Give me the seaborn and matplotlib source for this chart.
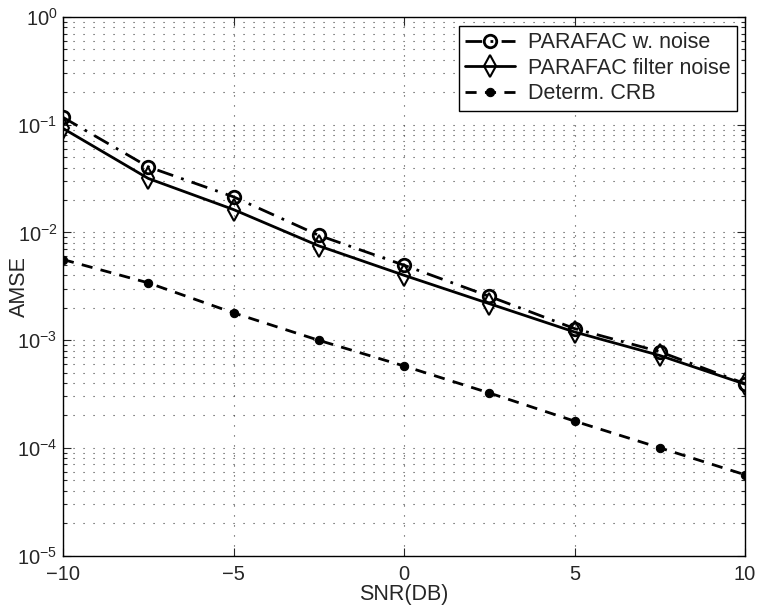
import numpy as np
import pandas as pd
import matplotlib
matplotlib.use("Agg")
import matplotlib.pyplot as plt
import seaborn as sns
from matplotlib.ticker import LogLocator, FixedLocator

snr_db = [-10, -7.5, -5, -2.5, 0, 2.5, 5, 7.5, 10]
parafac_w_noise = [0.117, 0.0406, 0.0214, 0.0094, 0.00496, 0.00255, 0.00128, 0.00078, 0.000394]
parafac_filter_noise = [0.0924, 0.0317, 0.0163, 0.0075, 0.0040, 0.00218, 0.00119, 0.00072, 0.00039]
determ_crb = [0.0056, 0.0034, 0.00179, 0.000996, 0.000575, 0.000323, 0.000177, 0.0001, 0.0000562]
labels = ["PARAFAC w. noise", "PARAFAC filter noise", "Determ. CRB"]
x_ticks = [-10, -5, 0, 5, 10]

sns.set_style("ticks")
plt.rcParams["font.family"] = ["Liberation Sans", "DejaVu Sans"]
plt.rcParams["mathtext.fontset"] = "custom"
plt.rcParams["mathtext.rm"] = "Liberation Sans"
plt.rcParams["mathtext.it"] = "Liberation Sans:italic"

fig = plt.figure(figsize=(7.57, 6.06), dpi=100)
ax = fig.add_axes([63/757, 1 - 555.5/606, (745-63)/757, (555.5-17)/606])

fs = 15.5
tfs = 14.5
sns.lineplot(x=snr_db, y=parafac_w_noise, ax=ax, color="k", lw=2,
             linestyle=(0, (6, 3, 1, 3)), marker="o", markersize=9,
             markerfacecolor="none", markeredgecolor="k", markeredgewidth=2,
             label=labels[0])
sns.lineplot(x=snr_db, y=parafac_filter_noise, ax=ax, color="k", lw=2,
             linestyle="-", marker="d", markersize=11,
             markerfacecolor="none", markeredgecolor="k", markeredgewidth=1.5,
             label=labels[1])
sns.lineplot(x=snr_db, y=determ_crb, ax=ax, color="k", lw=2,
             linestyle=(0, (4, 3)), marker="o", markersize=6,
             markerfacecolor="k", markeredgecolor="k",
             label=labels[2])

ax.set_yscale("log")
ax.set_ylim(1e-5, 1)
ax.set_xlim(-10, 10)
ax.xaxis.set_major_locator(FixedLocator(x_ticks))
ax.set_xticklabels(["\u221210", "\u22125", "0", "5", "10"])
ax.yaxis.set_major_locator(LogLocator(base=10, numticks=10))
ax.yaxis.set_minor_locator(LogLocator(base=10, subs=np.arange(2, 10), numticks=20))

ax.grid(True, which="major", axis="both", color="0.25", linestyle=(0, (1, 8)), lw=0.8)
ax.grid(True, which="minor", axis="y", color="0.25", linestyle=(0, (1, 8)), lw=0.8)

ax.tick_params(which="both", direction="in", top=True, right=True, labelsize=tfs, width=0.8)
ax.tick_params(which="major", length=6)
ax.tick_params(axis="x", which="major", pad=7)
ax.tick_params(axis="y", which="major", pad=4)
ax.tick_params(which="minor", length=3)
for s in ax.spines.values():
    s.set_linewidth(1.0)
    s.set_color("k")

ax.set_xlabel("SNR(DB)", fontsize=fs, labelpad=0)
ax.set_ylabel("AMSE", fontsize=fs)
ax.yaxis.label.set_va("center")
ax.yaxis.set_label_coords((19 - 63) / 682, 0.5)

leg = ax.legend(loc="upper right", bbox_to_anchor=(1 - 8/682, 1 - 9/538.5),
                borderaxespad=0, fontsize=fs, frameon=True, fancybox=False,
                handlelength=2.3, labelspacing=0.2, borderpad=0.3, handletextpad=0.6)
leg.get_frame().set_edgecolor("k")
leg.get_frame().set_linewidth(1.0)
leg.get_frame().set_alpha(1)

fig.savefig("out.png", dpi=100)
